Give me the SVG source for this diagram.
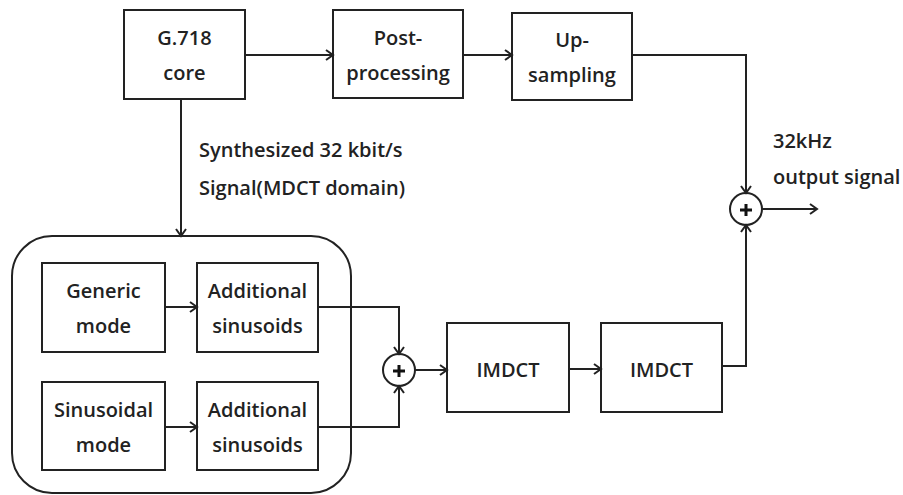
<svg xmlns="http://www.w3.org/2000/svg" width="903" height="495" viewBox="0 0 903 495">
<defs>
<marker id="arr" markerWidth="12" markerHeight="12" refX="10" refY="6" orient="auto" markerUnits="userSpaceOnUse">
<path d="M3,1 L10,6 L3,11" fill="none" stroke="#222" stroke-width="2"/>
</marker>
</defs>
<style>
.box{fill:#fff;stroke:#222;stroke-width:2}
.t{font-family:"Open Sans","Noto Sans",sans-serif;font-weight:600;font-size:20px;fill:#222;text-anchor:middle}
.l{font-family:"Open Sans","Noto Sans",sans-serif;font-weight:600;font-size:20px;fill:#222}
.c{fill:none;stroke:#222;stroke-width:2}
.p{fill:none;stroke:#111;stroke-width:3}
</style>
<rect width="903" height="495" fill="#fff"/>
<g id="container"><rect x="12" y="236" width="339" height="257" rx="40" class="box"/></g>
<g id="g718"><rect x="124" y="10" width="121" height="89" class="box"/><text class="t" x="184.5" y="45">G.718</text><text class="t" x="184.5" y="80">core</text></g>
<g id="post"><rect x="333" y="10" width="130" height="88" class="box"/><text class="t" x="398" y="45">Post-</text><text class="t" x="398" y="80">processing</text></g>
<g id="up"><rect x="512" y="13" width="120" height="87" class="box"/><text class="t" x="572" y="47">Up-</text><text class="t" x="572" y="82">sampling</text></g>
<g id="generic"><rect x="42" y="263" width="123" height="89" class="box"/><text class="t" x="103.5" y="298">Generic</text><text class="t" x="103.5" y="333">mode</text></g>
<g id="add1"><rect x="197" y="263" width="121" height="89" class="box"/><text class="t" x="257.5" y="298">Additional</text><text class="t" x="257.5" y="333">sinusoids</text></g>
<g id="sinmode"><rect x="42" y="382" width="123" height="88" class="box"/><text class="t" x="103.5" y="417">Sinusoidal</text><text class="t" x="103.5" y="452">mode</text></g>
<g id="add2"><rect x="197" y="382" width="121" height="88" class="box"/><text class="t" x="257.5" y="417">Additional</text><text class="t" x="257.5" y="452">sinusoids</text></g>
<g id="sum1"><circle cx="399" cy="370" r="16" class="box"/><path d="M393,371 H405 M399,365 V377" class="p"/></g>
<g id="imdct1"><rect x="447" y="323" width="122" height="89" class="box"/><text class="t" x="508" y="377">IMDCT</text></g>
<g id="imdct2"><rect x="601" y="323" width="121" height="89" class="box"/><text class="t" x="661.5" y="377">IMDCT</text></g>
<g id="sum2"><circle cx="746" cy="209" r="16" class="box"/><path d="M740,210 H752 M746,204 V216" class="p"/></g>
<g id="connectors">
<path d="M245,55 H333" class="c" marker-end="url(#arr)"/>
<path d="M463,55 H512" class="c" marker-end="url(#arr)"/>
<path d="M632,55 H746 V193" class="c" marker-end="url(#arr)"/>
<path d="M762,209 H817" class="c" marker-end="url(#arr)"/>
<path d="M181,99 V236" class="c" marker-end="url(#arr)"/>
<path d="M165,307 H197" class="c" marker-end="url(#arr)"/>
<path d="M165,427 H197" class="c" marker-end="url(#arr)"/>
<path d="M318,307 H399 V354" class="c" marker-end="url(#arr)"/>
<path d="M318,427 H399 V386" class="c" marker-end="url(#arr)"/>
<path d="M415,370 H447" class="c" marker-end="url(#arr)"/>
<path d="M569,369 H601" class="c" marker-end="url(#arr)"/>
<path d="M722,366 H746 V225" class="c" marker-end="url(#arr)"/>
</g>
<text class="l" x="199" y="157">Synthesized 32 kbit/s</text>
<text class="l" x="199" y="195">Signal(MDCT domain)</text>
<text class="l" x="773" y="148">32kHz</text>
<text class="l" x="773" y="184">output signal</text>
</svg>
